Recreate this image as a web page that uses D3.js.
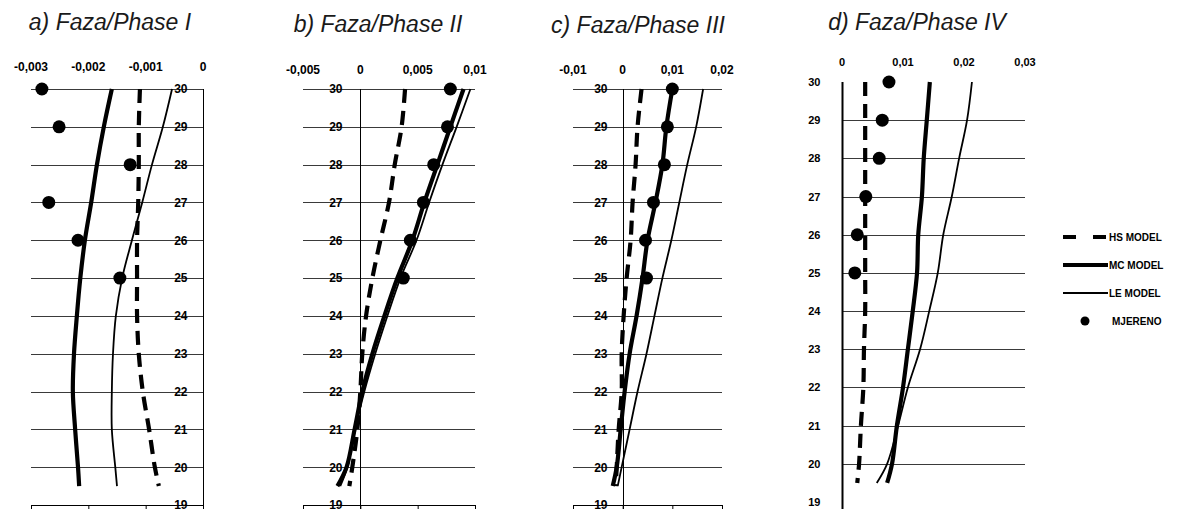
<!DOCTYPE html>
<html>
<head>
<meta charset="utf-8">
<script src="https://cdn.jsdelivr.net/npm/d3@7"></script>
<style>
  body { margin: 0; background: #fff; }
  svg { display: block; font-family: "Liberation Sans", Arial, sans-serif; }
</style>
</head>
<body>
<svg width="1184" height="509"></svg>
<script>
// depths (m)
let depthModel = [30, 29, 28, 27, 26, 25, 24, 23, 22, 21, 20, 19.5];
let depthMeasured = [30, 29, 28, 27, 26, 25];
let depthTicks = [30, 29, 28, 27, 26, 25, 24, 23, 22, 21, 20, 19];

let legendNames = ["HS MODEL", "MC MODEL", "LE MODEL", "MJERENO"];

// Phase I
let ticksA = [-0.003, -0.002, -0.001, 0];
let hsA = [-0.00110, -0.00112, -0.00112, -0.00113, -0.00115, -0.00115, -0.00115, -0.00112, -0.00105, -0.00094, -0.00084, -0.00077];
let mcA = [-0.00159, -0.00173, -0.00185, -0.00195, -0.00206, -0.00214, -0.00220, -0.00225, -0.00227, -0.00223, -0.00218, -0.00216];
let leA = [-0.00054, -0.00070, -0.00089, -0.00106, -0.00124, -0.00141, -0.00152, -0.00157, -0.00159, -0.00159, -0.00153, -0.00150];
let mjA = [-0.00281, -0.00251, -0.00127, -0.00269, -0.00218, -0.00145];

// Phase II
let ticksB = [-0.005, 0, 0.005, 0.01];
let hsB = [0.0039, 0.0036, 0.0030, 0.0025, 0.00175, 0.00105, 0.0005, 0.00017, 0.0, -0.00026, -0.0007, -0.00096];
let mcB = [0.0090, 0.00785, 0.00672, 0.00558, 0.00454, 0.00323, 0.0021, 0.00105, 0.00017, -0.0005, -0.0012, -0.002];
let leB = [0.0096, 0.0084, 0.00716, 0.0060, 0.0049, 0.0035, 0.00236, 0.0013, 0.00035, -0.00045, -0.00113, -0.00175];
let mjB = [0.00785, 0.0076, 0.0064, 0.0055, 0.00436, 0.00375];

// Phase III
let ticksC = [-0.01, 0, 0.01, 0.02];
let hsC = [0.0038, 0.003, 0.0026, 0.002, 0.0016, 0.0008, 0.0002, -0.0002, -0.0002, -0.0008, -0.0012, -0.0014];
let mcC = [0.010, 0.0088, 0.008, 0.0066, 0.005, 0.004, 0.0028, 0.0014, 0.0004, -0.0004, -0.0012, -0.002];
let leC = [0.0162, 0.0148, 0.013, 0.0114, 0.0098, 0.008, 0.0064, 0.0048, 0.003, 0.0014, -0.0002, -0.001];
let mjC = [0.010, 0.009, 0.0084, 0.0062, 0.0046, 0.0048];

// Phase IV
let ticksD = [0, 0.01, 0.02, 0.03];
let hsD = [0.0038, 0.0038, 0.0038, 0.0038, 0.0038, 0.0038, 0.0038, 0.0036, 0.0035, 0.0031, 0.0028, 0.0025];
let mcD = [0.0144, 0.0139, 0.0134, 0.0131, 0.0125, 0.0123, 0.0116, 0.0108, 0.010, 0.009, 0.0082, 0.0074];
let leD = [0.0213, 0.0205, 0.0192, 0.018, 0.0166, 0.0157, 0.0143, 0.0128, 0.0108, 0.0092, 0.0074, 0.0057];
let mjD = [0.0077, 0.0066, 0.0061, 0.0039, 0.0025, 0.0021];

let svg = d3.select("svg");

let locale = d3.formatLocale({decimal: ",", thousands: ".", grouping: [3], currency: ["", ""], minus: "-"});
let fmt = locale.format("~g");

let panels = [
  {title: "a) Faza/Phase I", tx: 110, ty: 30, domain: [-0.003, 0], xr: [31, 203], yr: [505, 89], ticks: ticksA,
   labelY: 71, grid: [20, 30], bottom: true, hs: hsA, mc: mcA, le: leA, mj: mjA, pad: 16},
  {title: "b) Faza/Phase II", tx: 378, ty: 32, domain: [-0.005, 0.01], xr: [303, 475], yr: [505, 89], ticks: ticksB,
   labelY: 74, grid: [20, 30], bottom: true, hs: hsB, mc: mcB, le: leB, mj: mjB, pad: 18},
  {title: "c) Faza/Phase III", tx: 638, ty: 33, domain: [-0.01, 0.02], xr: [573, 722], yr: [505, 89], ticks: ticksC,
   labelY: 74, grid: [20, 30], bottom: true, hs: hsC, mc: mcC, le: leC, mj: mjC, pad: 16},
  {title: "d) Faza/Phase IV", tx: 917, ty: 30, domain: [0, 0.03], xr: [842, 1025], yr: [502, 82], ticks: ticksD,
   labelY: 66, grid: [20, 29], bottom: false, hs: hsD, mc: mcD, le: leD, mj: mjD, pad: 22, pixel: true}
];

panels.forEach(p => {
  let x = d3.scaleLinear().domain(p.domain).range(p.xr);
  let y = d3.scaleLinear().domain([19, 30]).range(p.yr);
  let g = svg.append("g");

  g.append("text")
    .attr("x", p.tx).attr("y", p.ty)
    .attr("text-anchor", "middle")
    .style("font-size", "23px").style("font-style", "italic")
    .attr("fill", "#1a1a1a")
    .text(p.title);

  // horizontal grid
  let levels = depthTicks.filter(d => d >= p.grid[0] && d <= p.grid[1]);
  g.selectAll(".grid").data(levels).enter().append("line")
    .attr("x1", p.xr[0]).attr("x2", p.xr[1])
    .attr("y1", d => Math.round(y(d)) + 0.5).attr("y2", d => Math.round(y(d)) + 0.5)
    .attr("stroke", "#3a3a3a").attr("stroke-width", 1);

  // top tick labels
  g.selectAll(".xl").data(p.ticks).enter().append("text")
    .attr("x", d => x(d)).attr("y", p.labelY)
    .attr("text-anchor", "middle")
    .style("font-size", p.pixel ? "11px" : "12px")
    .style("font-weight", "bold")
    .text(d => fmt(d));

  // bottom axis with ticks
  if (p.bottom) {
    let axB = d3.axisBottom(x).tickValues(p.ticks).tickSize(5).tickFormat("");
    let gb = g.append("g").attr("transform", "translate(0," + Math.round(y(19)) + ")").call(axB);
    gb.select(".domain").attr("stroke", "#000").attr("d", "M" + p.xr[0] + ",0.5H" + p.xr[1]);
    gb.selectAll(".tick line").attr("stroke", "#000");
  }

  // vertical axis at value 0 with depth labels
  let ax = x(0);
  let axL = d3.axisLeft(y).tickValues(depthTicks).tickSize(0).tickPadding(p.pad).tickFormat(d3.format("d"));
  let gl = g.append("g").attr("transform", "translate(" + (Math.round(ax) + 0.5) + ",0)").call(axL);
  gl.select(".domain").attr("stroke", "#000").attr("stroke-width", p.pixel ? 2 : 1)
    .attr("d", "M0," + Math.round(y(30)) + "V509");
  gl.selectAll(".tick text")
    .style("font-size", p.pixel ? "11px" : "12px")
    .style("font-weight", "bold")
    .style("font-family", "'Liberation Sans', Arial, sans-serif")
    .attr("fill", "#000");

  let line = vals => d3.line()
    .x((d, i) => x(vals[i]))
    .y(d => y(d))
    .curve(d3.curveCatmullRom)(depthModel);

  g.append("path").attr("d", line(p.le)).attr("fill", "none")
    .attr("stroke", "#000").attr("stroke-width", 1.8);
  g.append("path").attr("d", line(p.mc)).attr("fill", "none")
    .attr("stroke", "#000").attr("stroke-width", 4.2);
  g.append("path").attr("d", line(p.hs)).attr("fill", "none")
    .attr("stroke", "#000").attr("stroke-width", 4.2).attr("stroke-dasharray", "14,8");

  g.selectAll(".dot").data(depthMeasured).enter().append("circle")
    .attr("cx", (d, i) => x(p.mj[i])).attr("cy", d => y(d))
    .attr("r", 6.5).attr("fill", "#000");
});

// legend
let legY = d3.scalePoint().domain(legendNames).range([237, 321]);
let leg = svg.append("g");
legendNames.forEach((name, i) => {
  let yy = legY(name);
  if (i < 3) {
    leg.append("line").attr("x1", 1063).attr("x2", 1108).attr("y1", yy).attr("y2", yy)
      .attr("stroke", "#000")
      .attr("stroke-width", i === 2 ? 1.8 : 4)
      .attr("stroke-dasharray", i === 0 ? "13,17" : null);
  } else {
    leg.append("circle").attr("cx", 1085).attr("cy", yy).attr("r", 4.5).attr("fill", "#000");
  }
  leg.append("text").attr("x", i === 3 ? 1112 : 1109).attr("y", yy + 4)
    .style("font-size", "10px").style("font-weight", "bold")
    .text(name);
});
</script>
</body>
</html>
